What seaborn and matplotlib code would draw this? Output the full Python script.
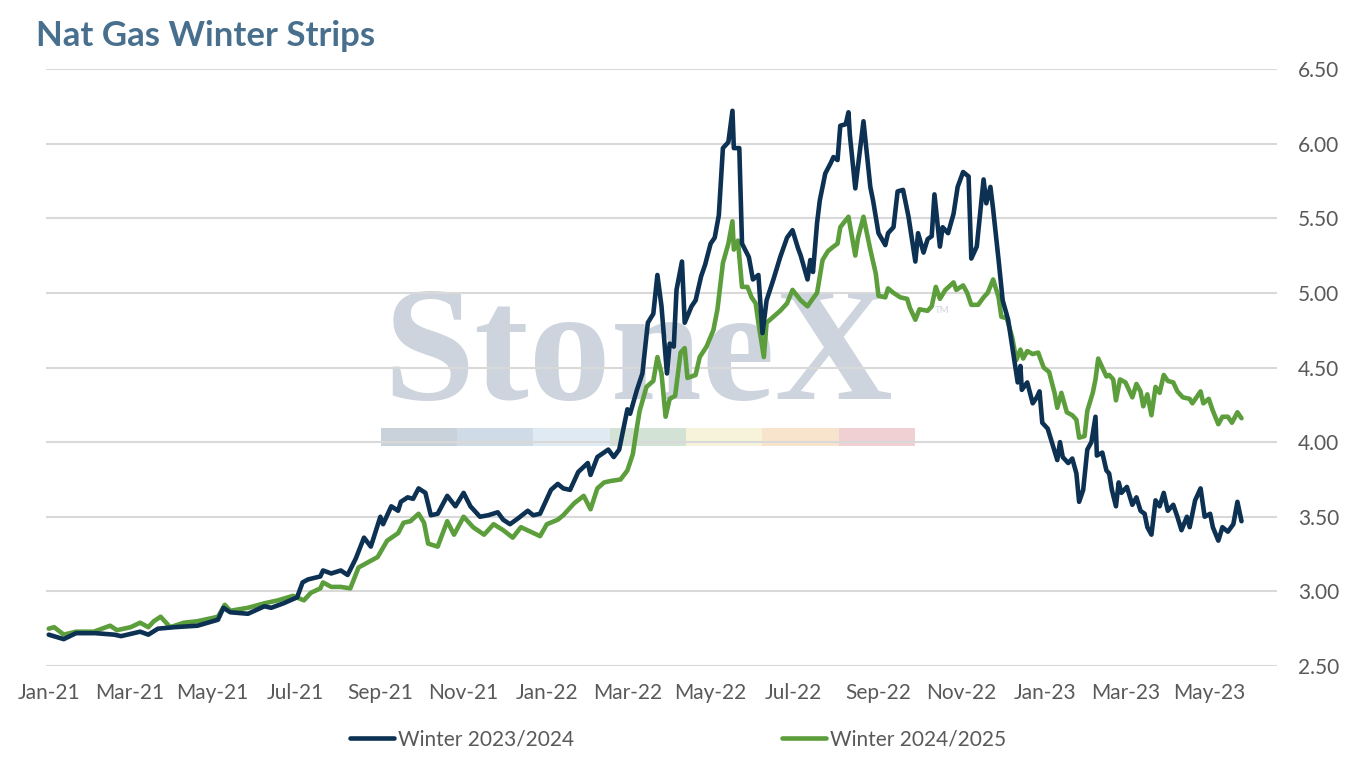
import pandas as pd
import seaborn as sns
import matplotlib.pyplot as plt
import matplotlib.dates as mdates
from matplotlib.patches import Rectangle

# values
w2324_dates = [
    "2021-01-01", "2021-01-12", "2021-01-21", "2021-02-04", "2021-02-18", "2021-02-23", "2021-03-09", "2021-03-15",
    "2021-03-22", "2021-04-03", "2021-04-20", "2021-05-05", "2021-05-09", "2021-05-14", "2021-05-27", "2021-06-08",
    "2021-06-13", "2021-06-22", "2021-07-02", "2021-07-06", "2021-07-10", "2021-07-19", "2021-07-21", "2021-07-27",
    "2021-08-03", "2021-08-08", "2021-08-14", "2021-08-20", "2021-08-25", "2021-09-01", "2021-09-03", "2021-09-09",
    "2021-09-14", "2021-09-16", "2021-09-21", "2021-09-25", "2021-09-29", "2021-10-04", "2021-10-08", "2021-10-13",
    "2021-10-20", "2021-10-26", "2021-11-01", "2021-11-06", "2021-11-13", "2021-11-19", "2021-11-26", "2021-11-30",
    "2021-12-05", "2021-12-11", "2021-12-18", "2021-12-22", "2021-12-27",
    "2022-01-04", "2022-01-09", "2022-01-13", "2022-01-18", "2022-01-24", "2022-01-31", "2022-02-02", "2022-02-07",
    "2022-02-15", "2022-02-19", "2022-02-23", "2022-03-01", "2022-03-03", "2022-03-08", "2022-03-12", "2022-03-16",
    "2022-03-20", "2022-03-23", "2022-03-26", "2022-03-30", "2022-04-01", "2022-04-04", "2022-04-06", "2022-04-10",
    "2022-04-12", "2022-04-17", "2022-04-20", "2022-04-24", "2022-04-27", "2022-05-01", "2022-05-04", "2022-05-07",
    "2022-05-10", "2022-05-14", "2022-05-17", "2022-05-18", "2022-05-22", "2022-05-24", "2022-05-29", "2022-06-01",
    "2022-06-05", "2022-06-08", "2022-06-11", "2022-06-16", "2022-06-21", "2022-06-26", "2022-06-30", "2022-07-04",
    "2022-07-06", "2022-07-11", "2022-07-13", "2022-07-15", "2022-07-18", "2022-07-20", "2022-07-24", "2022-07-28",
    "2022-07-30", "2022-08-02", "2022-08-04", "2022-08-08", "2022-08-10", "2022-08-11", "2022-08-15", "2022-08-17",
    "2022-08-21", "2022-08-26", "2022-08-28", "2022-09-01", "2022-09-06", "2022-09-08", "2022-09-12", "2022-09-15",
    "2022-09-19", "2022-09-23", "2022-09-28", "2022-09-30", "2022-10-04", "2022-10-07", "2022-10-10", "2022-10-12",
    "2022-10-16", "2022-10-18", "2022-10-22", "2022-10-26", "2022-10-29", "2022-11-02", "2022-11-06", "2022-11-08",
    "2022-11-12", "2022-11-17", "2022-11-19", "2022-11-22", "2022-11-24", "2022-11-28", "2022-12-01", "2022-12-05",
    "2022-12-08", "2022-12-12", "2022-12-14", "2022-12-15", "2022-12-19", "2022-12-23", "2022-12-26", "2022-12-28",
    "2022-12-30",
    "2023-01-03", "2023-01-07", "2023-01-10", "2023-01-12", "2023-01-14", "2023-01-18", "2023-01-21", "2023-01-24",
    "2023-01-26", "2023-01-29", "2023-02-01", "2023-02-04", "2023-02-07", "2023-02-08", "2023-02-12", "2023-02-15",
    "2023-02-17", "2023-02-19", "2023-02-22", "2023-02-24", "2023-02-26", "2023-03-02", "2023-03-06", "2023-03-09",
    "2023-03-12", "2023-03-15", "2023-03-17", "2023-03-20", "2023-03-23", "2023-03-26", "2023-03-29", "2023-04-01",
    "2023-04-05", "2023-04-08", "2023-04-11", "2023-04-15", "2023-04-17", "2023-04-21", "2023-04-25", "2023-04-28",
    "2023-05-02", "2023-05-04", "2023-05-08", "2023-05-11", "2023-05-15", "2023-05-19", "2023-05-22", "2023-05-25"]
w2324_vals = [
    2.71, 2.68, 2.72, 2.72, 2.71, 2.70, 2.73, 2.71, 2.75, 2.76, 2.77, 2.81, 2.89, 2.86, 2.85, 2.90, 2.89, 2.92,
    2.96, 3.06, 3.08, 3.10, 3.14, 3.12, 3.14, 3.11, 3.22, 3.36, 3.30, 3.50, 3.45, 3.57, 3.54, 3.60, 3.63, 3.62,
    3.69, 3.66, 3.51, 3.52, 3.64, 3.57, 3.66, 3.57, 3.50, 3.51, 3.53, 3.48, 3.45, 3.49, 3.54, 3.51, 3.52,
    3.68, 3.72, 3.69, 3.68, 3.80, 3.86, 3.78, 3.90, 3.95, 3.90, 3.95, 4.22, 4.19, 4.35, 4.46, 4.80, 4.86, 5.12,
    4.91, 4.46, 4.66, 4.64, 5.02, 5.21, 4.80, 4.91, 4.95, 5.11, 5.19, 5.33, 5.37, 5.52, 5.97, 6.01, 6.22, 5.97,
    5.97, 5.33, 5.24, 5.09, 5.12, 4.73, 4.95, 5.09, 5.24, 5.37, 5.42, 5.30, 5.25, 5.09, 5.22, 5.14, 5.47, 5.62,
    5.80, 5.87, 5.91, 5.89, 6.12, 6.13, 6.21, 6.06, 5.70, 5.85, 6.15, 5.71, 5.62, 5.40, 5.32, 5.40, 5.44, 5.68,
    5.69, 5.51, 5.21, 5.40, 5.27, 5.36, 5.38, 5.66, 5.31, 5.44, 5.40, 5.53, 5.71, 5.81, 5.78, 5.23, 5.31, 5.76,
    5.60, 5.71, 5.56, 5.22, 4.95, 4.82, 4.64, 4.40, 4.51, 4.35, 4.40, 4.26, 4.30, 4.34, 4.13,
    4.09, 3.97, 3.88, 4.00, 3.90, 3.86, 3.89, 3.79, 3.60, 3.68, 3.95, 4.00, 4.17, 3.91, 3.93, 3.81, 3.79, 3.68,
    3.57, 3.73, 3.66, 3.70, 3.58, 3.63, 3.54, 3.52, 3.43, 3.38, 3.61, 3.57, 3.66, 3.54, 3.58, 3.50, 3.41, 3.50,
    3.43, 3.61, 3.69, 3.50, 3.52, 3.43, 3.34, 3.43, 3.40, 3.45, 3.60, 3.47]

w2425_dates = [
    "2021-01-01", "2021-01-05", "2021-01-12", "2021-01-21", "2021-02-03", "2021-02-15", "2021-02-20", "2021-03-02",
    "2021-03-09", "2021-03-15", "2021-03-19", "2021-03-24", "2021-03-31", "2021-04-10", "2021-04-20", "2021-05-05",
    "2021-05-10", "2021-05-14", "2021-05-27", "2021-06-08", "2021-06-18", "2021-06-29", "2021-07-07", "2021-07-12",
    "2021-07-19", "2021-07-21", "2021-07-27", "2021-08-03", "2021-08-10", "2021-08-16", "2021-08-30", "2021-09-06",
    "2021-09-14", "2021-09-18", "2021-09-23", "2021-09-29", "2021-10-03", "2021-10-06", "2021-10-13", "2021-10-20",
    "2021-10-25", "2021-11-01", "2021-11-08", "2021-11-16", "2021-11-23", "2021-11-30", "2021-12-07", "2021-12-13",
    "2021-12-20", "2021-12-27",
    "2022-01-01", "2022-01-09", "2022-01-13", "2022-01-21", "2022-01-28", "2022-02-02", "2022-02-07", "2022-02-12",
    "2022-02-17", "2022-02-24", "2022-03-01", "2022-03-05", "2022-03-08", "2022-03-10", "2022-03-15", "2022-03-20",
    "2022-03-23", "2022-03-26", "2022-03-29", "2022-04-01", "2022-04-05", "2022-04-09", "2022-04-12", "2022-04-14",
    "2022-04-20", "2022-04-23", "2022-04-28", "2022-05-03", "2022-05-06", "2022-05-10", "2022-05-14", "2022-05-17",
    "2022-05-18", "2022-05-21", "2022-05-24", "2022-05-28", "2022-05-31", "2022-06-03", "2022-06-05", "2022-06-09",
    "2022-06-11", "2022-06-16", "2022-06-21", "2022-06-26", "2022-06-30", "2022-07-06", "2022-07-11", "2022-07-14",
    "2022-07-18", "2022-07-22", "2022-07-26", "2022-07-30", "2022-08-02", "2022-08-04", "2022-08-10", "2022-08-15",
    "2022-08-17", "2022-08-21", "2022-08-26", "2022-08-30", "2022-09-01", "2022-09-06", "2022-09-08", "2022-09-12",
    "2022-09-17", "2022-09-22", "2022-09-24", "2022-09-28", "2022-10-01", "2022-10-07", "2022-10-10", "2022-10-13",
    "2022-10-16", "2022-10-20", "2022-10-26", "2022-10-28", "2022-11-02", "2022-11-05", "2022-11-08", "2022-11-13",
    "2022-11-17", "2022-11-20", "2022-11-24", "2022-11-28", "2022-11-30", "2022-12-04", "2022-12-08", "2022-12-11",
    "2022-12-14", "2022-12-16", "2022-12-19", "2022-12-23", "2022-12-27", "2022-12-29", "2022-12-31",
    "2023-01-04", "2023-01-08", "2023-01-10", "2023-01-13", "2023-01-17", "2023-01-21", "2023-01-24", "2023-01-26",
    "2023-01-30", "2023-02-01", "2023-02-05", "2023-02-07", "2023-02-09", "2023-02-12", "2023-02-15", "2023-02-17",
    "2023-02-20", "2023-02-22", "2023-02-25", "2023-03-01", "2023-03-04", "2023-03-06", "2023-03-09", "2023-03-12",
    "2023-03-14", "2023-03-17", "2023-03-20", "2023-03-23", "2023-03-26", "2023-03-29", "2023-04-01", "2023-04-05",
    "2023-04-08", "2023-04-12", "2023-04-17", "2023-04-19", "2023-04-22", "2023-04-25", "2023-04-27", "2023-05-01",
    "2023-05-04", "2023-05-08", "2023-05-11", "2023-05-15", "2023-05-18", "2023-05-22", "2023-05-25"]
w2425_vals = [
    2.75, 2.76, 2.71, 2.73, 2.73, 2.77, 2.74, 2.76, 2.79, 2.76, 2.80, 2.83, 2.76, 2.79, 2.80, 2.83, 2.91, 2.87,
    2.89, 2.92, 2.94, 2.97, 2.94, 2.99, 3.02, 3.06, 3.03, 3.03, 3.02, 3.16, 3.23, 3.34, 3.39, 3.46, 3.47, 3.52,
    3.46, 3.32, 3.30, 3.47, 3.38, 3.50, 3.43, 3.38, 3.45, 3.41, 3.36, 3.43, 3.40, 3.37,
    3.45, 3.48, 3.51, 3.59, 3.64, 3.55, 3.69, 3.73, 3.74, 3.75, 3.81, 3.92, 4.10, 4.21, 4.37, 4.41, 4.57, 4.46,
    4.17, 4.29, 4.31, 4.60, 4.63, 4.43, 4.45, 4.57, 4.64, 4.75, 4.89, 5.20, 5.33, 5.48, 5.29, 5.35, 5.04, 5.04,
    4.97, 4.93, 4.80, 4.57, 4.80, 4.84, 4.88, 4.93, 5.02, 4.95, 4.91, 4.95, 5.00, 5.22, 5.28, 5.31, 5.33, 5.44,
    5.51, 5.25, 5.37, 5.51, 5.29, 5.13, 4.98, 4.97, 5.03, 5.00, 4.97, 4.96, 4.90, 4.82, 4.89, 4.88, 4.91, 5.04,
    4.96, 5.02, 5.07, 5.02, 5.05, 5.00, 4.92, 4.92, 4.97, 5.00, 5.09, 4.97, 4.84, 4.83, 4.70, 4.55, 4.62, 4.56,
    4.61, 4.59, 4.60, 4.55, 4.50,
    4.47, 4.33, 4.23, 4.33, 4.20, 4.18, 4.15, 4.03, 4.04, 4.21, 4.33, 4.42, 4.56, 4.50, 4.44, 4.45, 4.42, 4.28,
    4.42, 4.40, 4.34, 4.30, 4.39, 4.34, 4.24, 4.32, 4.18, 4.37, 4.33, 4.45, 4.41, 4.40, 4.34, 4.30, 4.29, 4.26,
    4.30, 4.34, 4.26, 4.29, 4.21, 4.12, 4.17, 4.17, 4.13, 4.20, 4.16]

series_names = ["Winter 2023/2024", "Winter 2024/2025"]
y_ticks = [2.5, 3.0, 3.5, 4.0, 4.5, 5.0, 5.5, 6.0, 6.5]

assert len(w2324_dates) == len(w2324_vals)
assert len(w2425_dates) == len(w2425_vals)

navy = "#0c3152"
green = "#5c9e3c"
grey_txt = "#595959"
wm_colors = ["#c9d1da", "#cfdbe6", "#dfeaf3", "#d2e3d6", "#f7f2da", "#f8e4cc", "#f0d0d2"]

sns.set_theme(style="white")
plt.rcParams["font.family"] = ["Lato", "DejaVu Sans"]

fig = plt.figure(figsize=(13.56, 7.58), dpi=100)
ax = fig.add_axes([46 / 1356, 1 - 666 / 758, 1231 / 1356, 597 / 758])
ax.set_axisbelow(True)

# watermark
ax.text(0.274, 0.448, "StoneX", transform=ax.transAxes, ha="left", va="baseline",
        fontsize=118, fontweight="bold", family="Liberation Serif", color="#cdd4dd", zorder=0.1)
ax.text(0.722, 0.592, "TM", transform=ax.transAxes, fontsize=7, color="#cdd4dd", zorder=0.1)
seg_w = 0.434 / len(wm_colors)
for i, c in enumerate(wm_colors):
    ax.add_patch(Rectangle((0.272 + i * seg_w, 0.3685), seg_w, 0.030, transform=ax.transAxes,
                           facecolor=c, edgecolor="none", zorder=0.1))

sns.lineplot(x=pd.to_datetime(w2324_dates), y=w2324_vals, color=navy, lw=3.3, ax=ax,
             label=series_names[0], zorder=3)
sns.lineplot(x=pd.to_datetime(w2425_dates), y=w2425_vals, color=green, lw=3.3, ax=ax,
             label=series_names[1], zorder=2)

ax.set_xlim(pd.Timestamp("2020-12-30"), pd.Timestamp("2023-06-20"))
ax.set_ylim(2.5, 6.5)
ax.set_yticks(y_ticks)
ax.yaxis.set_major_formatter(plt.FuncFormatter(lambda v, p: f"{v:.2f}"))
ax.yaxis.tick_right()
ax.xaxis.set_major_locator(mdates.MonthLocator(bymonth=[1, 3, 5, 7, 9, 11]))
ax.xaxis.set_major_formatter(mdates.DateFormatter("%b-%y"))
ax.tick_params(axis="both", length=0, labelsize=15, labelcolor=grey_txt)
ax.tick_params(axis="x", pad=12)
ax.tick_params(axis="y", pad=15)
ax.grid(axis="y", color="#d9d9d9", lw=1.5)
ax.grid(axis="x", visible=False)
for s in ax.spines.values():
    s.set_visible(False)
ax.set_xlabel("")
ax.set_ylabel("")

ax.legend(loc="center", bbox_to_anchor=(0.5, 0.025), bbox_transform=fig.transFigure, ncol=2,
          frameon=False, handlelength=2.1, handletextpad=0.2, columnspacing=10.0,
          fontsize=15, labelcolor=grey_txt)

fig.text(36 / 1356, 1 - 46 / 758, "Nat Gas Winter Strips", fontsize=25, fontweight="bold",
         color="#48708e", ha="left", va="baseline")

fig.savefig("out.png", dpi=100)
